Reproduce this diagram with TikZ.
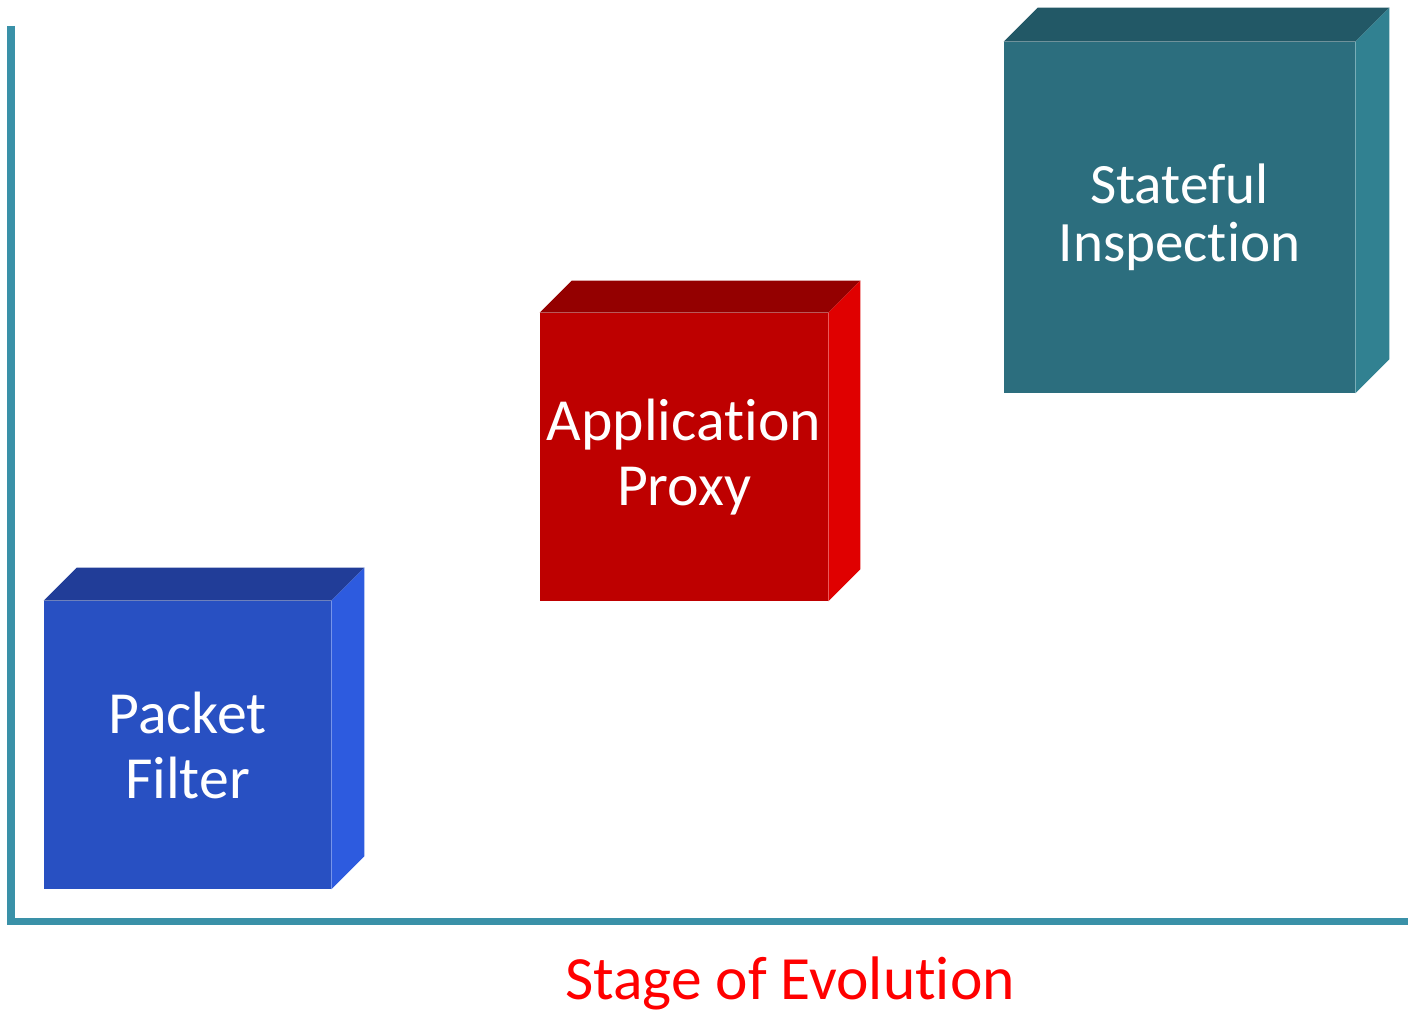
\documentclass[tikz,border=0pt]{standalone}
\usepackage{fontspec}
\setmainfont[Ligatures=NoCommon]{Carlito}
\usetikzlibrary{positioning,calc}

\definecolor{axiscol}{HTML}{3A91A8}
\definecolor{pfFront}{HTML}{2850C2}
\definecolor{pfTop}{HTML}{213D98}
\definecolor{pfSide}{HTML}{2D5BDF}
\definecolor{apFront}{HTML}{BE0000}
\definecolor{apTop}{HTML}{940000}
\definecolor{apSide}{HTML}{E00000}
\definecolor{siFront}{HTML}{2C6E7E}
\definecolor{siTop}{HTML}{225866}
\definecolor{siSide}{HTML}{318191}

\begin{document}
\begin{tikzpicture}[x=0.02cm,y=-0.02cm,
  front/.style={inner sep=0pt,text=white,align=center,font=\fontsize{34}{37}\selectfont}]
\useasboundingbox (0,0) rectangle (1408,1013);
% axes
\draw[axiscol,line width=4.5pt] (11,26) -- (11,921.5) -- (1408,921.5);
% front faces
\node[front,fill=pfFront,minimum width=5.74cm,minimum height=5.76cm] (pf) at (187.5,745) {Packet\\Filter};
\node[front,fill=apFront,minimum width=5.76cm,minimum height=5.76cm] (ap) at (684,457) {Application\\Proxy};
\node[front,fill=siFront,minimum width=7.02cm,minimum height=7.02cm,
  font=\fontsize{32.5}{33}\selectfont] (si) at (1179.5,217.5) {Stateful\\Inspection};
% top and side faces
\foreach \n/\t/\s/\d in {pf/pfTop/pfSide/33, ap/apTop/apSide/32, si/siTop/siSide/34} {
  \fill[\t] (\n.north west) -- ++(\d,-\d) -- ($(\n.north east)+(\d,-\d)$) -- (\n.north east) -- cycle;
  \fill[\s] (\n.north east) -- ++(\d,-\d) -- ($(\n.south east)+(\d,-\d)$) -- (\n.south east) -- cycle;
}
% label
\node[text=red,font=\fontsize{35}{40}\selectfont] (stage) at (790,983) {Stage of Evolution};
\end{tikzpicture}
\end{document}
